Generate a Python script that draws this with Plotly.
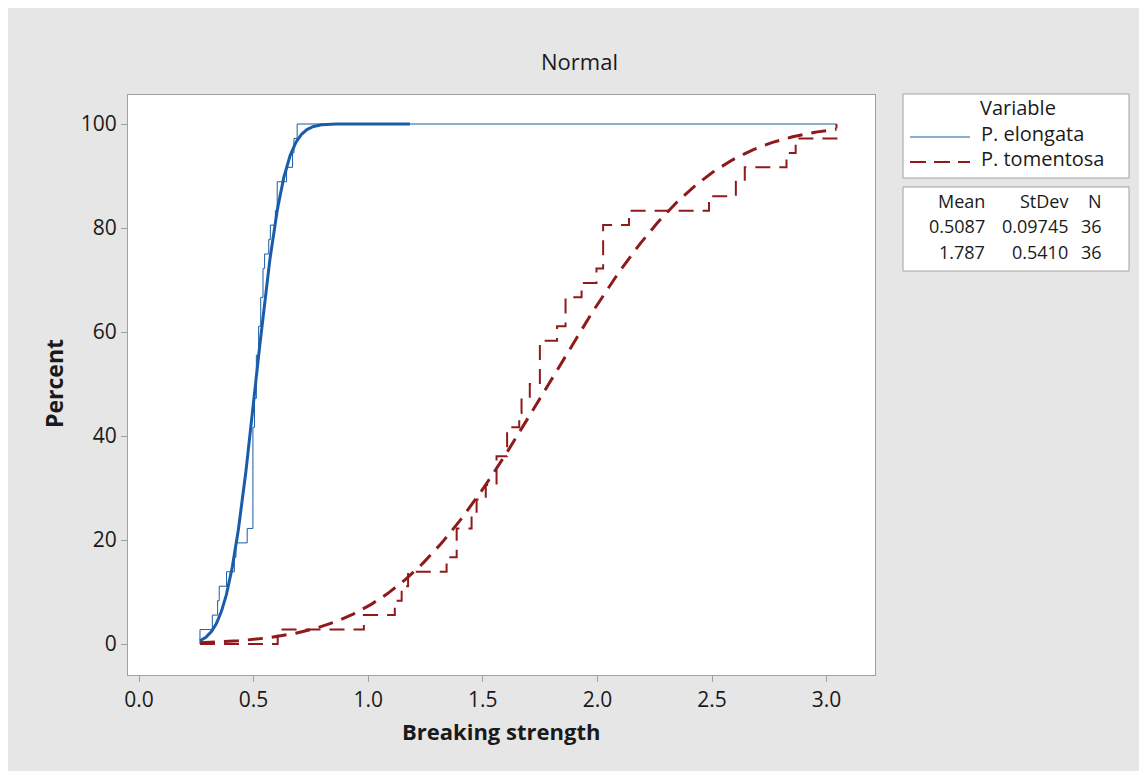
import math
import numpy as np
import plotly.graph_objects as go

# ---------------- data ----------------
series_names = ["P. elongata", "P. tomentosa"]
elongata = [0.266, 0.320, 0.343, 0.350, 0.382, 0.416, 0.423, 0.472,
            0.497, 0.497, 0.497, 0.497, 0.497, 0.497, 0.497,
            0.504, 0.504, 0.512, 0.512, 0.512, 0.522, 0.522,
            0.531, 0.531, 0.541, 0.541, 0.548, 0.566, 0.573,
            0.595, 0.603, 0.603, 0.644, 0.670, 0.676, 0.690]
tomentosa = [0.605, 0.981, 1.116, 1.146, 1.174, 1.342, 1.386, 1.386,
             1.451, 1.473, 1.513, 1.560, 1.560, 1.606, 1.606, 1.659,
             1.669, 1.705, 1.749, 1.749, 1.749, 1.824, 1.861, 1.861,
             1.931, 1.996, 2.025, 2.025, 2.025, 2.138, 2.487, 2.604,
             2.643, 2.825, 2.865, 3.043]
means = [0.5087, 1.787]
stdevs = [0.09745, 0.5410]
counts = [36, 36]
mean_labels = ["0.5087", "1.787"]
stdev_labels = ["0.09745", "0.5410"]
fit_ranges = [(0.266, 1.182), (0.266, 3.043)]
x_ticks = [0.0, 0.5, 1.0, 1.5, 2.0, 2.5, 3.0]
y_ticks = [0, 20, 40, 60, 80, 100]

BLUE = "#1a5ca8"
RED = "#8e1a1c"
FONT = "Open Sans"
TXT_COL = "#1a1a1a"

# ---------------- helpers ----------------
xmin = min(min(elongata), min(tomentosa))
xmax = max(max(elongata), max(tomentosa))


def ecdf_xy(vals):
    v = sorted(vals)
    n = len(v)
    xs = [xmin] + v + [xmax]
    ys = [0.0] + [100.0 * (i + 1) / n for i in range(n)] + [100.0]
    return xs, ys


def norm_cdf(x, m, s):
    return 50.0 * (1.0 + math.erf((x - m) / (s * math.sqrt(2.0))))


fig = go.Figure()

# empirical CDFs
for vals, col, dash, w in [(elongata, BLUE, "solid", 1), (tomentosa, RED, "15px,9px", 2)]:
    xs, ys = ecdf_xy(vals)
    fig.add_trace(go.Scatter(x=xs, y=ys, mode="lines", line=dict(color=col, width=w, dash=dash, shape="hv"),
                             showlegend=False, hoverinfo="skip"))

# fitted normal CDFs
for (a, b), m, s, col, dash in [(fit_ranges[0], means[0], stdevs[0], BLUE, "solid"),
                                 (fit_ranges[1], means[1], stdevs[1], RED, "15px,9px")]:
    xs = np.linspace(a, b, 300)
    ys = [norm_cdf(x, m, s) for x in xs]
    fig.add_trace(go.Scatter(x=xs, y=ys, mode="lines", line=dict(color=col, width=3, dash=dash),
                             showlegend=False, hoverinfo="skip"))

# ---------------- layout ----------------
# page body margin of 8px: screenshot coordinate = figure coordinate + 8
OFF = 8
W, H = 1147, 771
L, R, T, B = 128 - OFF, 875 - OFF, 95 - OFF, 675 - OFF
pw, ph = R - L, B - T


def px(x):
    return (x - OFF - L) / pw


def py(y):
    return (B - (y - OFF)) / ph


GRAY_LINE = "#a0a0a0"
shapes = [
    # legend boxes
    dict(type="rect", xref="paper", yref="paper", x0=px(903), x1=px(1129), y0=py(178), y1=py(94),
         fillcolor="white", line=dict(color=GRAY_LINE, width=1)),
    dict(type="rect", xref="paper", yref="paper", x0=px(903), x1=px(1129), y0=py(271), y1=py(187),
         fillcolor="white", line=dict(color=GRAY_LINE, width=1)),
    # legend line samples
    dict(type="line", xref="paper", yref="paper", x0=px(910), x1=px(970), y0=py(137), y1=py(137),
         line=dict(color=BLUE, width=1.2)),
    dict(type="line", xref="paper", yref="paper", x0=px(910), x1=px(970), y0=py(162), y1=py(162),
         line=dict(color=RED, width=2, dash="16px,8px")),
]

txt = dict(family=FONT, size=20, color=TXT_COL)
tbl = dict(family=FONT, size=18, color=TXT_COL)
ann = []
ann.append(dict(text="Normal", x=px(579), y=py(61), xref="paper", yref="paper", showarrow=False,
                font=dict(family=FONT, size=22, color=TXT_COL), xanchor="center", yanchor="middle"))
ann.append(dict(text="<b>Breaking strength</b>", x=px(501), y=py(731), xref="paper", yref="paper",
                showarrow=False, font=dict(family=FONT, size=22, color=TXT_COL),
                xanchor="center", yanchor="middle"))
ann.append(dict(text="<b>Percent</b>", x=px(54), y=py(384), xref="paper", yref="paper", showarrow=False,
                textangle=-90, font=dict(family=FONT, size=23, color=TXT_COL),
                xanchor="center", yanchor="middle"))
ann.append(dict(text="Variable", x=px(1018), y=py(107), xref="paper", yref="paper", showarrow=False,
                font=txt, xanchor="center", yanchor="middle"))
ann.append(dict(text=series_names[0], x=px(979), y=py(133), xref="paper", yref="paper", showarrow=False,
                font=txt, xanchor="left", yanchor="middle"))
ann.append(dict(text=series_names[1], x=px(979), y=py(158), xref="paper", yref="paper", showarrow=False,
                font=txt, xanchor="left", yanchor="middle"))
# stats table
for label, xr in [("Mean", 987), ("StDev", 1070), ("N", 1104)]:
    ann.append(dict(text=label, x=px(xr), y=py(201), xref="paper", yref="paper", showarrow=False,
                    font=tbl, xanchor="right", yanchor="middle"))
for i, yy in enumerate([226, 252]):
    for val, xr in [(mean_labels[i], 987), (stdev_labels[i], 1070), (str(counts[i]), 1104)]:
        ann.append(dict(text=val, x=px(xr), y=py(yy), xref="paper", yref="paper", showarrow=False,
                        font=tbl, xanchor="right", yanchor="middle"))

# axis ranges from pixel geometry (0 at x=139, 229.2 px per unit; y 0 at 644, 5.2 px per unit)
x0 = (128 - 139) / 229.2
x1 = (875 - 139) / 229.2
y0 = (644 - 675) / 5.2
y1 = (644 - 95) / 5.2

fig.update_layout(
    width=W, height=H,
    margin=dict(l=L, r=W - R, t=T, b=H - B),
    paper_bgcolor="#e6e6e6",
    plot_bgcolor="white",
    shapes=shapes,
    annotations=ann,
    showlegend=False,
    font=dict(family=FONT, color=TXT_COL),
    xaxis=dict(range=[x0, x1], tickvals=x_ticks, ticktext=[f"{v:.1f}" for v in x_ticks],
               showgrid=False, zeroline=False, showline=True, linecolor=GRAY_LINE, linewidth=1,
               mirror=True, ticks="outside", ticklen=6, tickcolor=GRAY_LINE,
               tickfont=dict(family=FONT, size=21, color=TXT_COL)),
    yaxis=dict(range=[y0, y1], tickvals=y_ticks, ticktext=[str(v) for v in y_ticks],
               showgrid=False, zeroline=False, showline=True, linecolor=GRAY_LINE, linewidth=1,
               mirror=True, ticks="outside", ticklen=6, tickcolor=GRAY_LINE,
               tickfont=dict(family=FONT, size=21, color=TXT_COL)),
)

fig.write_html("out.html")
